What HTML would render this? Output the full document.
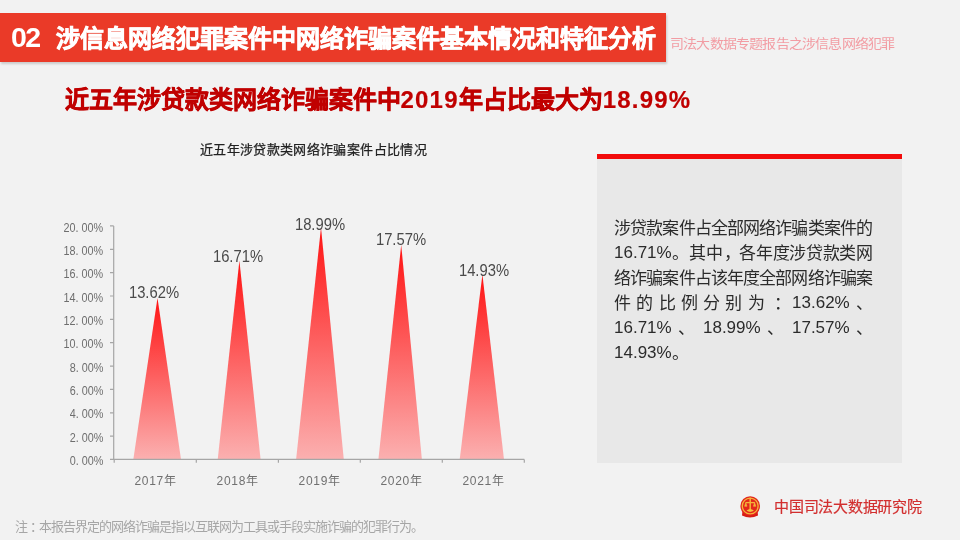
<!DOCTYPE html>
<html lang="zh-CN">
<head>
<meta charset="utf-8">
<style>
html,body{margin:0;padding:0;}
#wrap{position:absolute;left:0;top:0;width:960px;height:540px;will-change:transform;}
body{width:960px;height:540px;overflow:hidden;background:#f2f2f2;position:relative;font-family:"Liberation Sans",sans-serif;}
.abs{position:absolute;white-space:nowrap;}
#hdr{position:absolute;left:0;top:13px;width:666px;height:49px;background:#ea3a28;box-shadow:1px 2px 2px rgba(0,0,0,0.16);}
#num{left:11px;top:22px;font-size:28.5px;letter-spacing:-1.5px;font-weight:bold;color:#fff;line-height:30px;}
#ttl{left:56px;top:24px;font-size:24px;letter-spacing:0px;font-weight:bold;-webkit-text-stroke:0.7px #fff;color:#fff;line-height:30px;}
#rtag{left:670px;top:35px;font-size:14px;letter-spacing:-0.8px;transform:scaleY(0.9);transform-origin:0 0;color:#f29ca3;line-height:18px;}
#sub{left:64.5px;top:84.5px;font-size:24px;letter-spacing:0px;font-weight:bold;-webkit-text-stroke:0.6px #c00000;color:#c00000;line-height:30px;}
#sub .n{font-size:24px;letter-spacing:1.2px;-webkit-text-stroke:0.2px #c00000;}
#ctitle{left:200px;top:141px;font-size:13px;letter-spacing:0.35px;color:#222;-webkit-text-stroke:0.25px #222;line-height:18px;}
#box{position:absolute;left:597px;top:154px;width:305px;height:309px;background:#e8e8e8;}
#boxbar{position:absolute;left:597px;top:154px;width:305px;height:5px;background:#f20c0c;}
#txt{position:absolute;left:614px;top:216px;width:258px;font-size:17px;letter-spacing:-1px;line-height:25px;color:#2b2b2b;}
#txt .n{font-size:17px;letter-spacing:0px;position:relative;top:-1px;}
#txt div{text-align:justify;text-align-last:justify;height:25px;white-space:nowrap;}
#txt div.last{text-align-last:left;}
#note{left:14.5px;top:519px;font-size:13px;letter-spacing:-0.98px;color:#a6a6a6;line-height:16px;}
#org{left:774px;top:497.5px;font-size:15px;letter-spacing:-0.25px;color:#d22f2f;-webkit-text-stroke:0.2px #d22f2f;line-height:18px;}
.yl{position:absolute;right:856.5px;transform:scaleX(0.9);transform-origin:right center;font-size:12px;color:#6e6e6e;line-height:14px;white-space:nowrap;}
.xl{position:absolute;font-size:12px;letter-spacing:0.7px;color:#707070;line-height:14px;white-space:nowrap;width:80px;text-align:center;}
.vl{position:absolute;font-size:17px;transform:scaleX(0.87);color:#4a4a4a;line-height:18px;white-space:nowrap;width:80px;text-align:center;}
</style>
</head>
<body><div id="wrap">
<div id="hdr"></div>
<div class="abs" id="num">02</div>
<div class="abs" id="ttl">涉信息网络犯罪案件中网络诈骗案件基本情况和特征分析</div>
<div class="abs" id="rtag">司法大数据专题报告之涉信息网络犯罪</div>
<div class="abs" id="sub">近五年涉贷款类网络诈骗案件中<span class="n">2019</span>年占比最大为<span class="n">18.99%</span></div>
<div class="abs" id="ctitle">近五年涉贷款类网络诈骗案件占比情况</div>

<svg style="position:absolute;left:0;top:0" width="960" height="540" viewBox="0 0 960 540">
<defs>
<linearGradient id="g" x1="0" y1="0" x2="0" y2="1">
<stop offset="0" stop-color="#ff1414"/>
<stop offset="1" stop-color="#fbb0b0"/>
</linearGradient>
</defs>
<g fill="url(#g)">
<polygon points="157.5,298 181,459.4 133.3,459.4"/>
<polygon points="239.4,260.8 260.6,459.4 217.7,459.4"/>
<polygon points="321,227.6 343.8,459.4 296.1,459.4"/>
<polygon points="401.2,245 421.9,459.4 378.4,459.4"/>
<polygon points="482.4,274.5 504,459.4 459.7,459.4"/>
</g>
<g stroke="#a6a6a6" stroke-width="1.2" fill="none">
<path d="M113.7 225.9V459.4"/>
<path d="M110 225.9H113.7M110 249.3H113.7M110 272.6H113.7M110 296H113.7M110 319.4H113.7M110 342.7H113.7M110 366.1H113.7M110 389.4H113.7M110 412.8H113.7M110 436.1H113.7"/>
<path d="M110 459.4H524.3"/>
<path d="M114.2 459.4V462.8M196.3 459.4V462.8M278.4 459.4V462.8M360.3 459.4V462.8M442.3 459.4V462.8M524.3 459.4V462.8"/>
</g>
</svg>

<div class="yl" style="top:221px">20. 00%</div>
<div class="yl" style="top:244px">18. 00%</div>
<div class="yl" style="top:267px">16. 00%</div>
<div class="yl" style="top:291px">14. 00%</div>
<div class="yl" style="top:314px">12. 00%</div>
<div class="yl" style="top:337px">10. 00%</div>
<div class="yl" style="top:361px">8. 00%</div>
<div class="yl" style="top:384px">6. 00%</div>
<div class="yl" style="top:407px">4. 00%</div>
<div class="yl" style="top:431px">2. 00%</div>
<div class="yl" style="top:454px">0. 00%</div>

<div class="xl" style="left:115.6px;top:473.5px">2017年</div>
<div class="xl" style="left:197.7px;top:473.5px">2018年</div>
<div class="xl" style="left:279.7px;top:473.5px">2019年</div>
<div class="xl" style="left:361.6px;top:473.5px">2020年</div>
<div class="xl" style="left:443.6px;top:473.5px">2021年</div>

<div class="vl" style="left:114px;top:283.5px">13.62%</div>
<div class="vl" style="left:198px;top:247.5px">16.71%</div>
<div class="vl" style="left:280px;top:215.5px">18.99%</div>
<div class="vl" style="left:361px;top:231px">17.57%</div>
<div class="vl" style="left:444px;top:262px">14.93%</div>

<div id="box"></div>
<div id="boxbar"></div>
<div id="txt">
<div>涉贷款案件占全部网络诈骗类案件的</div>
<div><span class="n">16.71%</span>。其中<span style="position:relative;left:1.5px">，</span>各年度涉贷款类网</div>
<div>络诈骗案件占该年度全部网络诈骗案</div>
<div>件的比例分别为<span style="position:relative;left:4.5px">：</span><span class="n">13.62%</span>、</div>
<div><span class="n">16.71%</span> 、 <span class="n">18.99%</span> 、 <span class="n">17.57%</span> 、</div>
<div class="last"><span class="n">14.93%</span>。</div>
</div>

<div class="abs" id="note">注<span style="position:relative;left:3px">：</span>本报告界定的网络诈骗是指以互联网为工具或手段实施诈骗的犯罪行为。</div>

<svg style="position:absolute;left:738px;top:494px" width="26" height="26" viewBox="0 0 26 26">
<path d="M4.5 16.5Q12 21.5 19.5 16.5L20 21.5Q12 25.5 4 21.5Z" fill="#d81c14"/>
<circle cx="12.2" cy="12" r="9.8" fill="#e3261c"/>
<circle cx="12.2" cy="12" r="7.9" fill="none" stroke="#f4b53a" stroke-width="1.3"/>
<path d="M12.2 3.8V17.5" stroke="#f4b53a" stroke-width="1.5"/>
<path d="M7.6 8.6H16.8" stroke="#f4b53a" stroke-width="1.3"/>
<path d="M7.8 8.6L6.6 12.3H9Z M16.6 8.6L15.4 12.3H17.8Z" fill="#f4b53a" stroke="#f4b53a" stroke-width="0.6"/>
<path d="M8.5 16.5Q12.2 13.5 15.9 16.5Q12.2 19 8.5 16.5Z" fill="#f6c23e"/>
</svg>
<div class="abs" id="org">中国司法大数据研究院</div>
</div></body>
</html>
